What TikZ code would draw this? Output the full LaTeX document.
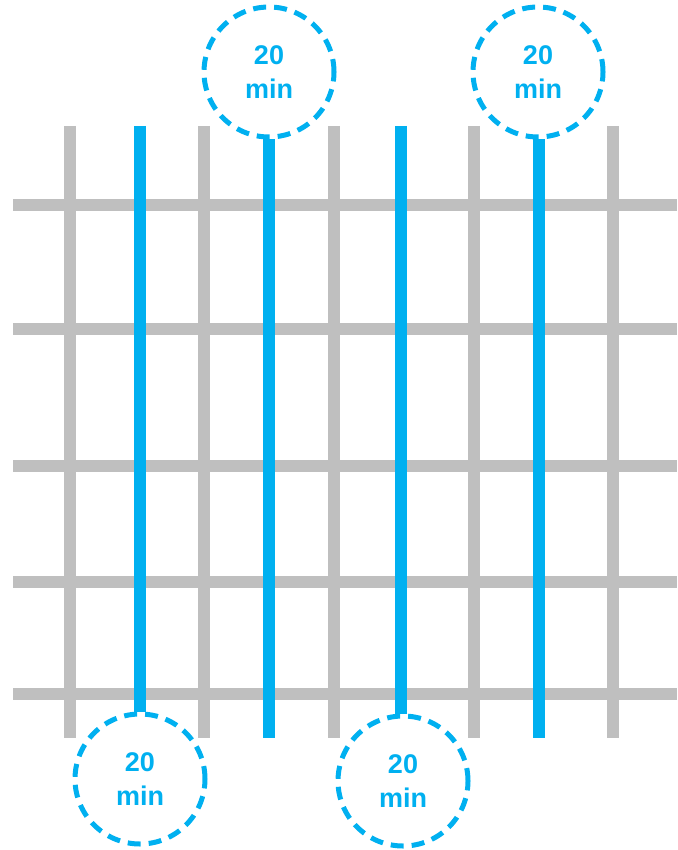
\documentclass[tikz,border=0pt]{standalone}
\usepackage{fontspec}
\setmainfont{Liberation Sans}
\usetikzlibrary{backgrounds}
\definecolor{gridgray}{HTML}{BFBFBF}
\definecolor{lineblue}{HTML}{00B0F0}
\tikzset{
  grid/.style={gridgray, line width=12pt},
  route/.style={lineblue, line width=12pt},
  timer/.style={circle, draw=lineblue, dash pattern=on 13pt off 8pt, line width=5pt, fill=white, minimum size=130pt, inner sep=0pt, align=center, text=lineblue, font=\bfseries\fontsize{27}{34}\selectfont}
}
\begin{document}
\begin{tikzpicture}[x=1pt, y=-1pt]
      \useasboundingbox (0,0) rectangle (677,850);
      % timers
      \node[timer] (t1) at (140,779) {20\\min};
      \node[timer] (t2) at (269,72)  {20\\min};
      \node[timer] (t3) at (403,781) {20\\min};
      \node[timer] (t4) at (538,72)  {20\\min};
      \coordinate (b1) at (140,126);
      \coordinate (b2) at (269,738);
      \coordinate (b3) at (401,126);
      \coordinate (b4) at (539,738);
      \begin{scope}[on background layer]
        % grid
        \foreach \x in {70,204,334,474,613}
          \draw[grid] (\x,126) -- (\x,738);
        \foreach \y in {205,329,466,582,694}
          \draw[grid] (13,\y) -- (677,\y);
        % routes
        \draw[route] (b1) -- (t1.north);
        \draw[route] (t2.south) -- (b2);
        \draw[route] (b3) -- (t3.north -| b3);
        \draw[route] (t4.south -| b4) -- (b4);
      \end{scope}
    \end{tikzpicture}
\end{document}
